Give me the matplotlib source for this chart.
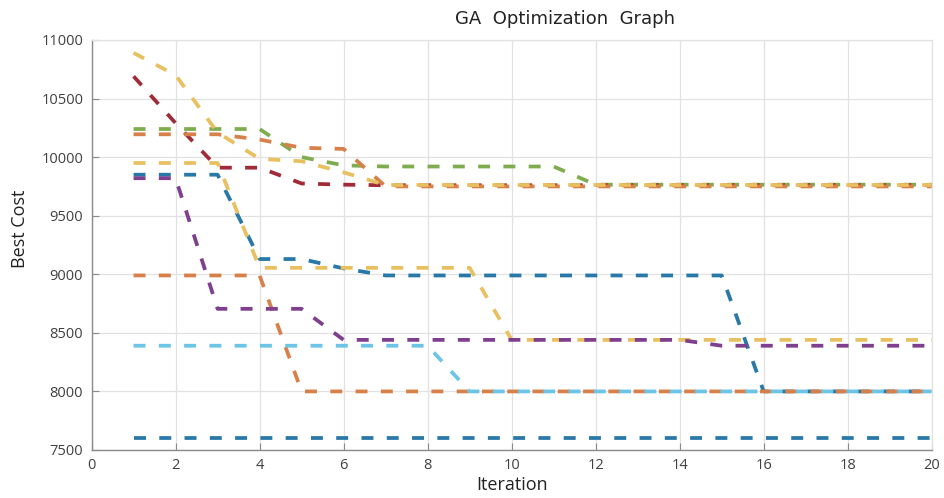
import matplotlib
matplotlib.use("Agg")
import matplotlib.pyplot as plt

iterations = list(range(1, 21))

blue_a = [9850, 9850, 9850, 9130, 9130, 9050, 8990, 8990, 8990, 8990,
          8990, 8990, 8990, 8990, 8990, 8000, 8000, 8000, 8000, 8000]
orange_a = [8990, 8990, 8990, 8990, 8000, 8000, 8000, 8000, 8000, 8000,
            8000, 8000, 8000, 8000, 8000, 8000, 8000, 8000, 8000, 8000]
yellow_a = [9950, 9950, 9950, 9055, 9055, 9055, 9055, 9055, 9055, 8440,
            8440, 8440, 8440, 8440, 8440, 8440, 8440, 8440, 8440, 8440]
purple_a = [9820, 9820, 8705, 8705, 8705, 8440, 8440, 8440, 8440, 8440,
            8440, 8440, 8440, 8440, 8390, 8390, 8390, 8390, 8390, 8390]
green_a = [10240, 10240, 10240, 10240, 10000, 9930, 9920, 9920, 9920, 9920,
           9920, 9765, 9765, 9765, 9765, 9765, 9765, 9765, 9765, 9765]
lightblue_a = [8390, 8390, 8390, 8390, 8390, 8390, 8390, 8390, 8000, 8000,
               8000, 8000, 8000, 8000, 8000, 8000, 8000, 8000, 8000, 8000]
darkred_a = [10690, 10290, 9910, 9910, 9775, 9765, 9760, 9760, 9760, 9760,
             9760, 9760, 9760, 9760, 9760, 9760, 9760, 9760, 9760, 9760]
blue_b = [7600] * 20
orange_b = [10195, 10195, 10195, 10150, 10080, 10070, 9750, 9750, 9750, 9750,
            9750, 9750, 9750, 9750, 9750, 9750, 9750, 9750, 9750, 9750]
yellow_b = [10890, 10700, 10210, 9985, 9965, 9870, 9762, 9762, 9762, 9762,
            9762, 9762, 9762, 9762, 9762, 9762, 9762, 9762, 9762, 9762]

series = [blue_a, orange_a, yellow_a, purple_a, green_a, lightblue_a,
          darkred_a, blue_b, orange_b, yellow_b]
colors = ["#2878a8", "#d8804a", "#e8c060", "#7e3f8e", "#80ac50", "#6cc4e6",
          "#a02a38", "#2878a8", "#d8804a", "#e8c060"]

x_ticks = list(range(0, 21, 2))
y_ticks = list(range(7500, 11001, 500))

plt.rcParams["lines.scale_dashes"] = False
fig = plt.figure(figsize=(9.44, 4.98), dpi=100)
ax = fig.add_axes([0.097, 0.0964, 0.890, 0.8233])

for ys, c in zip(series, colors):
    ax.plot(iterations, ys, color=c, linewidth=2.7, dashes=(8.6, 9.6),
            solid_capstyle="butt", dash_capstyle="butt")

ax.set_xlim(0, 20)
ax.set_ylim(7500, 11000)
ax.set_xticks(x_ticks)
ax.set_yticks(y_ticks)
ax.grid(True, color="#e2e2e2", linewidth=0.9)
ax.set_axisbelow(True)
for s in ["top", "right"]:
    ax.spines[s].set_color("#e2e2e2")
    ax.spines[s].set_linewidth(0.9)
for s in ["left", "bottom"]:
    ax.spines[s].set_color("#8a8a8a")
    ax.spines[s].set_linewidth(1.0)
ax.tick_params(direction="in", length=5, color="#8a8a8a", labelsize=10.5,
               labelcolor="#404040", top=False, right=False)
for lab in ax.get_xticklabels() + ax.get_yticklabels():
    lab.set_fontfamily("Open Sans")
ax.tick_params(axis="x", pad=6)
ax.tick_params(axis="y", pad=6)

ax.set_xlabel("Iteration", fontfamily="Open Sans", fontsize=13,
              color="#222222", labelpad=2)
ax.set_ylabel("Best Cost", fontfamily="Open Sans", fontsize=13,
              color="#222222")
ax.yaxis.set_label_coords(-0.074, 0.54)
fig.text(0.598, 0.962, "GA  Optimization  Graph", ha="center", va="center",
         fontfamily="DejaVu Sans", fontsize=13, color="#222222")

fig.savefig("out.png", dpi=100)
